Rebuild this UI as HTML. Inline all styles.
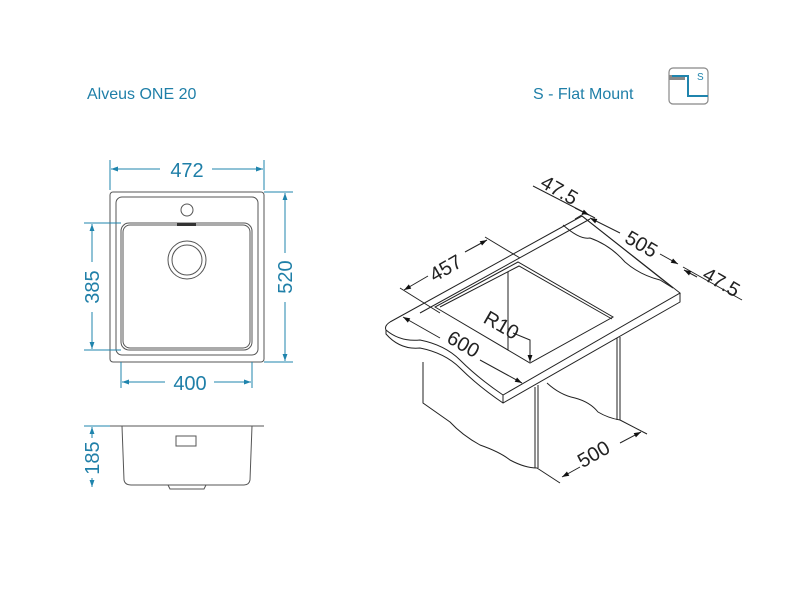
<!DOCTYPE html>
<html><head><meta charset="utf-8"><style>
html,body{margin:0;padding:0;background:#fff;}
svg{display:block;font-family:"Liberation Sans","DejaVu Sans",sans-serif;}
.d{stroke:#1f84ad;stroke-width:1;fill:none}
.t{fill:#1f7fa8;font-size:20px}
.g{stroke:#555;stroke-width:1;fill:none}
.k{stroke:#222;stroke-width:1;fill:none}
.kt{fill:#222;font-size:20px}
</style></head><body>
<svg width="800" height="600" viewBox="0 0 800 600">
<defs>
<marker id="a" viewBox="0 0 10 10" refX="10" refY="5" markerWidth="9" markerHeight="7" orient="auto-start-reverse"><path d="M0,1.5 L10,5 L0,8.5z" fill="#1f84ad"/></marker>
<marker id="b" viewBox="0 0 10 10" refX="10" refY="5" markerWidth="9" markerHeight="7" orient="auto-start-reverse"><path d="M0,1.5 L10,5 L0,8.5z" fill="#111"/></marker>
</defs>
<text x="87" y="99" style="fill:#1f7fa8;font-size:16px">Alveus ONE 20</text>
<text x="533" y="99" style="fill:#1f7fa8;font-size:16px">S - Flat Mount</text>
<rect x="669" y="68" width="39" height="36" rx="4" fill="#fff" stroke="#888" stroke-width="1.2"/>
<rect x="669" y="75" width="16" height="5" fill="#888"/>
<path d="M672,76 H688 V96 H708" fill="none" stroke="#1f84ad" stroke-width="2"/>
<text x="697" y="80" style="fill:#1f84ad;font-size:10px">S</text>

<!-- plan view -->
<line class="d" x1="110" y1="160" x2="110" y2="190"/><line class="d" x1="264" y1="160" x2="264" y2="190"/>
<line class="d" x1="111" y1="169" x2="160" y2="169" marker-start="url(#a)"/><line class="d" x1="212" y1="169" x2="263" y2="169" marker-end="url(#a)"/>
<text class="t" x="187" y="177" text-anchor="middle">472</text>
<rect class="g" x="110" y="192" width="154" height="170" rx="3"/>
<rect class="g" x="116" y="197" width="142" height="158" rx="6"/>
<rect class="g" x="121" y="223" width="131" height="127" rx="8"/>
<rect class="g" x="123" y="225" width="127" height="123" rx="7"/>
<circle class="g" cx="187" cy="210" r="6"/>
<rect x="177" y="223" width="19" height="3" fill="#333"/>
<circle class="g" cx="187" cy="260" r="19"/><circle class="g" cx="187" cy="260" r="15"/>
<line class="d" x1="84" y1="223" x2="121" y2="223"/><line class="d" x1="84" y1="350" x2="121" y2="350"/>
<line class="d" x1="92" y1="224" x2="92" y2="262" marker-start="url(#a)"/><line class="d" x1="92" y1="312" x2="92" y2="349" marker-end="url(#a)"/>
<text class="t" transform="translate(99,287) rotate(-90)" text-anchor="middle">385</text>
<line class="d" x1="264" y1="192" x2="293" y2="192"/><line class="d" x1="264" y1="362" x2="293" y2="362"/>
<line class="d" x1="285" y1="193" x2="285" y2="253" marker-start="url(#a)"/><line class="d" x1="285" y1="302" x2="285" y2="361" marker-end="url(#a)"/>
<text class="t" transform="translate(292,277) rotate(-90)" text-anchor="middle">520</text>
<line class="d" x1="121" y1="362" x2="121" y2="388"/><line class="d" x1="252" y1="362" x2="252" y2="388"/>
<line class="d" x1="122" y1="382" x2="165" y2="382" marker-start="url(#a)"/><line class="d" x1="214" y1="382" x2="251" y2="382" marker-end="url(#a)"/>
<text class="t" x="190" y="390" text-anchor="middle">400</text>
<!-- section -->
<line class="g" x1="110" y1="426" x2="264" y2="426"/>
<path class="g" d="M122,426 L124,480 Q125,485 131,485 L244,485 Q249,485 250,480 L252,426"/>
<path class="g" d="M168,485 L170,489 L204,489 L206,485"/>
<rect class="g" x="176" y="436" width="20" height="10"/>
<line class="d" x1="84" y1="426" x2="110" y2="426"/>
<line class="d" x1="92" y1="427" x2="92" y2="438" marker-start="url(#a)"/><line class="d" x1="92" y1="478" x2="92" y2="487" marker-end="url(#a)"/>
<text class="t" transform="translate(99,458) rotate(-90)" text-anchor="middle">185</text>

<!-- iso view -->
<g class="k">
<!-- slab top -->
<path d="M390,322 Q384,326 386,330 Q400,342 420,340 Q445,345 460,360 Q478,378 503,395 L680,293 L582,216"/>
<path d="M386,330 L386,334 Q400,350 420,348 Q445,353 460,368 Q478,386 503,403 L680,302 L680,293"/>
<line x1="503" y1="395" x2="503" y2="403"/>
<line x1="390" y1="322" x2="582" y2="216"/>
<line x1="420" y1="313" x2="590" y2="219"/>
<!-- opening -->
<path d="M435,307 L530,363 L613,317 L518,262 Z"/>
<path d="M440,307 L519,266 L612,319"/>
<line x1="508" y1="272" x2="508" y2="350"/>
<!-- back cut wavy -->
<path d="M563,225 Q580,240 590,238 Q610,245 625,262 Q640,275 660,280 L673,288"/>
<line x1="582" y1="216" x2="673" y2="288"/>
<!-- cabinet -->
<path d="M423,362 L423,403 Q440,415 450,422 Q462,435 480,445 Q500,452 510,460 Q525,468 537,468"/>
<line x1="535" y1="387" x2="535" y2="468"/><line x1="538" y1="385" x2="538" y2="468"/>
<line x1="620" y1="337" x2="620" y2="420"/><line x1="617" y1="338" x2="617" y2="420"/>
<path d="M547,383 Q560,395 575,398 Q590,402 598,412 Q608,418 620,420"/>
</g>
<!-- iso dims -->
<g class="k" stroke-width="0.9">
<line x1="537" y1="468" x2="560" y2="483"/><line x1="620" y1="420" x2="647" y2="434"/>
<line x1="562" y1="477" x2="580" y2="467" marker-start="url(#b)"/><line x1="620" y1="443" x2="641" y2="432" marker-end="url(#b)"/>
<line x1="400" y1="288" x2="440" y2="313"/><line x1="485" y1="237" x2="520" y2="258"/>
<line x1="404" y1="290" x2="428" y2="276" marker-start="url(#b)"/><line x1="465" y1="252" x2="487" y2="240" marker-end="url(#b)"/>
<line x1="403" y1="317" x2="440" y2="338" marker-start="url(#b)"/><line x1="480" y1="360" x2="522" y2="383" marker-end="url(#b)"/>
<path d="M513,333 L530,340 L530,362" marker-end="url(#b)"/>
<line x1="533" y1="186" x2="595" y2="218"/><line x1="585" y1="213" x2="575" y2="219"/>
<line x1="575" y1="208" x2="589" y2="215" marker-end="url(#b)"/>
<line x1="590" y1="218" x2="620" y2="233" marker-start="url(#b)"/><line x1="660" y1="254" x2="678" y2="264" marker-end="url(#b)"/>
<line x1="683" y1="267" x2="742" y2="300"/>
<line x1="697" y1="277" x2="684" y2="270" marker-end="url(#b)"/>
</g>
<text class="kt" transform="translate(597,460) rotate(-30)" text-anchor="middle">500</text>
<text class="kt" transform="translate(449,274) rotate(-30)" text-anchor="middle">457</text>
<text class="kt" transform="translate(460,350) rotate(30)" text-anchor="middle">600</text>
<text class="kt" transform="translate(498,331) rotate(30)" text-anchor="middle">R10</text>
<text class="kt" transform="translate(556,196) rotate(30)" text-anchor="middle">47.5</text>
<text class="kt" transform="translate(638,250) rotate(30)" text-anchor="middle">505</text>
<text class="kt" transform="translate(718,288) rotate(30)" text-anchor="middle">47.5</text>
</svg>
</body></html>
